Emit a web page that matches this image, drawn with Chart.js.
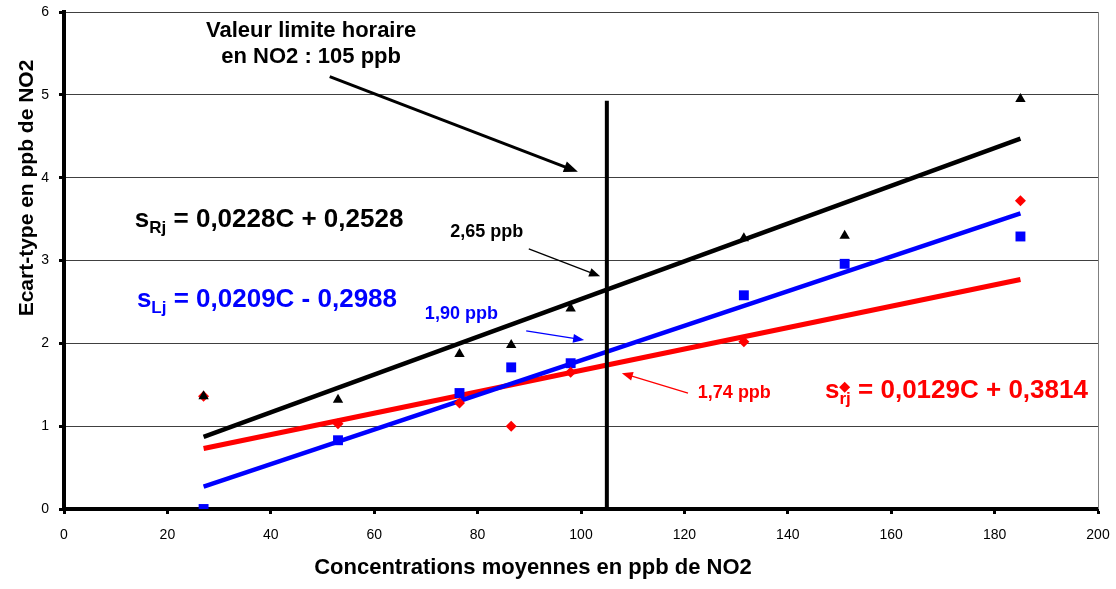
<!DOCTYPE html>
<html>
<head>
<meta charset="utf-8">
<script src="https://cdn.jsdelivr.net/npm/chart.js@4.4.1/dist/chart.umd.min.js"></script>
<style>
  html, body { margin: 0; padding: 0; background: #fff; }
  #wrap { width: 1116px; height: 589px; }
</style>
</head>
<body>
<div id="wrap"><canvas id="ecartChart" width="1116" height="589"></canvas></div>
<script>
// Concentrations moyennes (ppb) et écarts-types
const concentrations = [27, 53, 76.5, 86.5, 98, 131.5, 151, 185];
const sigmaR = [1.36, 1.32, 1.87, 1.98, 2.42, 3.27, 3.30, 4.95];
const sigmaL = [0.0, 0.83, 1.40, 1.71, 1.76, 2.58, 2.96, 3.29];
const sigmar = [1.36, 1.03, 1.28, 1.00, 1.65, 2.02, 1.47, 3.72];

// droites de régression (extrémités)
const trendX = [27, 185];
const trendR = [0.87, 4.47];
const trendL = [0.27, 3.57];
const trendr = [0.73, 2.77];

// valeur limite horaire
const limitX = [105, 105];
const limitY = [0, 4.93];

const xTicks = [0, 20, 40, 60, 80, 100, 120, 140, 160, 180, 200];
const yTicks = [0, 1, 2, 3, 4, 5, 6];

const FONT = "'Liberation Sans', Arial, sans-serif";

function pts(xs, ys) {
    return xs.map((x, i) => ({ x: x, y: ys[i] }));
}

// annotations (positions in data units)
const annotations = {
    title: { x: 47.8, y1: 5.70, y2: 5.39 },
    arrows: [
        { from: [51.4, 5.22], to: [99.4, 4.07], color: '#000', width: 3, head: 14 },
        { from: [89.9, 3.14], to: [103.7, 2.81], color: '#000', width: 1.3, head: 11 },
        { from: [89.4, 2.15], to: [100.6, 2.04], color: '#0000ff', width: 1.3, head: 11 },
        { from: [120.7, 1.40], to: [107.9, 1.64], color: '#ff0000', width: 1.3, head: 11 }
    ]
};

const annotationPlugin = {
    id: 'annotationPlugin',
    afterDatasetsDraw(chart) {
        const ctx = chart.ctx;
        const xs = chart.scales.x;
        const ys = chart.scales.y;
        const area = chart.chartArea;
        const px = v => xs.getPixelForValue(v);
        const py = v => ys.getPixelForValue(v);

        ctx.save();

        // right border of plot area
        ctx.strokeStyle = '#808080';
        ctx.lineWidth = 1;
        ctx.beginPath();
        ctx.moveTo(area.right + 0.5, area.top);
        ctx.lineTo(area.right + 0.5, area.bottom);
        ctx.stroke();

        // arrows
        annotations.arrows.forEach(a => {
            const x1 = px(a.from[0]), y1 = py(a.from[1]);
            const x2 = px(a.to[0]), y2 = py(a.to[1]);
            const ang = Math.atan2(y2 - y1, x2 - x1);
            const h = a.head;
            ctx.strokeStyle = a.color;
            ctx.fillStyle = a.color;
            ctx.lineWidth = a.width;
            ctx.beginPath();
            ctx.moveTo(x1, y1);
            ctx.lineTo(x2 - Math.cos(ang) * h * 0.8, y2 - Math.sin(ang) * h * 0.8);
            ctx.stroke();
            ctx.beginPath();
            ctx.moveTo(x2, y2);
            ctx.lineTo(x2 - Math.cos(ang) * h + Math.sin(ang) * h * 0.4, y2 - Math.sin(ang) * h - Math.cos(ang) * h * 0.4);
            ctx.lineTo(x2 - Math.cos(ang) * h - Math.sin(ang) * h * 0.4, y2 - Math.sin(ang) * h + Math.cos(ang) * h * 0.4);
            ctx.closePath();
            ctx.fill();
        });

        // title of limit value
        ctx.fillStyle = '#000';
        ctx.textAlign = 'center';
        ctx.textBaseline = 'alphabetic';
        ctx.font = 'bold 22px ' + FONT;
        ctx.fillText('Valeur limite horaire', px(annotations.title.x), py(annotations.title.y1));
        ctx.fillText('en NO2 : 105 ppb', px(annotations.title.x), py(annotations.title.y2));

        // equations
        ctx.textAlign = 'left';
        function eq(x, y, color, sub, rest) {
            let X = px(x), Y = py(y);
            ctx.fillStyle = color;
            ctx.font = 'bold 26px ' + FONT;
            ctx.fillText('s', X, Y);
            X += ctx.measureText('s').width;
            ctx.font = 'bold 17px ' + FONT;
            ctx.fillText(sub, X, Y + 6);
            X += ctx.measureText(sub).width;
            ctx.font = 'bold 26px ' + FONT;
            ctx.fillText(' = ' + rest, X, Y);
        }
        eq(13.7, 3.405, '#000', 'Rj', '0,0228C + 0,2528');
        eq(14.1, 2.44, '#0000ff', 'Lj', '0,0209C - 0,2988');
        eq(147.2, 1.34, '#ff0000', 'rj', '0,0129C + 0,3814');

        // values at 105 ppb
        ctx.font = 'bold 18px ' + FONT;
        ctx.fillStyle = '#000';
        ctx.fillText('2,65 ppb', px(74.7), py(3.28));
        ctx.fillStyle = '#0000ff';
        ctx.fillText('1,90 ppb', px(69.8), py(2.29));
        ctx.fillStyle = '#ff0000';
        ctx.fillText('1,74 ppb', px(122.6), py(1.34));

        // axis titles
        ctx.fillStyle = '#000';
        ctx.font = 'bold 22px ' + FONT;
        ctx.textAlign = 'center';
        ctx.fillText('Concentrations moyennes en ppb de NO2', 533, 574);
        ctx.font = 'bold 21px ' + FONT;
        ctx.translate(33, 188);
        ctx.rotate(-Math.PI / 2);
        ctx.fillText('Ecart-type en ppb de NO2', 0, 0);

        ctx.restore();
    }
};

const ctx = document.getElementById('ecartChart').getContext('2d');
const ecartChart = new Chart(ctx, {
    type: 'scatter',
    data: {
        datasets: [
            {
                label: 'sRj',
                data: pts(concentrations, sigmaR),
                pointStyle: 'triangle',
                pointRadius: 6,
                backgroundColor: '#000',
                borderColor: '#000',
                borderWidth: 0,
                order: 1
            },
            {
                label: 'sLj',
                data: pts(concentrations, sigmaL),
                pointStyle: 'rect',
                pointRadius: 7,
                backgroundColor: '#0000ff',
                borderColor: '#0000ff',
                borderWidth: 0,
                order: 3
            },
            {
                label: 'srj',
                data: pts(concentrations, sigmar),
                pointStyle: 'rectRot',
                pointRadius: 5.5,
                backgroundColor: '#ff0000',
                borderColor: '#ff0000',
                borderWidth: 0,
                order: 2
            },
            {
                label: 'trend R',
                data: pts(trendX, trendR),
                showLine: true,
                borderColor: '#000',
                borderWidth: 4.5,
                pointRadius: 0,
                order: 5
            },
            {
                label: 'trend L',
                data: pts(trendX, trendL),
                showLine: true,
                borderColor: '#0000ff',
                borderWidth: 4.5,
                pointRadius: 0,
                order: 6
            },
            {
                label: 'trend r',
                data: pts(trendX, trendr),
                showLine: true,
                borderColor: '#ff0000',
                borderWidth: 5,
                pointRadius: 0,
                order: 7
            },
            {
                label: 'limite',
                data: pts(limitX, limitY),
                showLine: true,
                borderColor: '#000',
                borderWidth: 4,
                pointRadius: 0,
                order: 4
            }
        ]
    },
    options: {
        responsive: false,
        animation: false,
        layout: { padding: { top: 12, right: 18, left: 0, bottom: 0 } },
        plugins: {
            legend: { display: false },
            tooltip: { enabled: false }
        },
        scales: {
            x: {
                type: 'linear',
                min: 0,
                max: 200,
                afterFit: s => {
                    s.height = 80;
                    s.paddingLeft = 0;
                    s.paddingRight = 0;
                },
                afterBuildTicks: s => { s.ticks = xTicks.map(v => ({ value: v })); },
                grid: {
                    drawOnChartArea: false,
                    drawTicks: true,
                    tickLength: 5,
                    tickWidth: 3,
                    tickColor: '#000'
                },
                border: { display: true, color: '#000', width: 4 },
                ticks: {
                    color: '#000',
                    padding: 13,
                    maxRotation: 0,
                    font: { family: FONT, size: 14 }
                }
            },
            y: {
                type: 'linear',
                min: 0,
                max: 6,
                afterFit: s => {
                    s.width = 64;
                    s.paddingTop = 0;
                    s.paddingBottom = 0;
                },
                afterBuildTicks: s => { s.ticks = yTicks.map(v => ({ value: v })); },
                grid: {
                    color: '#404040',
                    lineWidth: 1,
                    drawTicks: true,
                    tickLength: 5,
                    tickWidth: 3,
                    tickColor: '#000'
                },
                border: { display: true, color: '#000', width: 4 },
                ticks: {
                    color: '#000',
                    padding: 10,
                    font: { family: FONT, size: 14 }
                }
            }
        }
    },
    plugins: [annotationPlugin]
});
</script>
</body>
</html>
